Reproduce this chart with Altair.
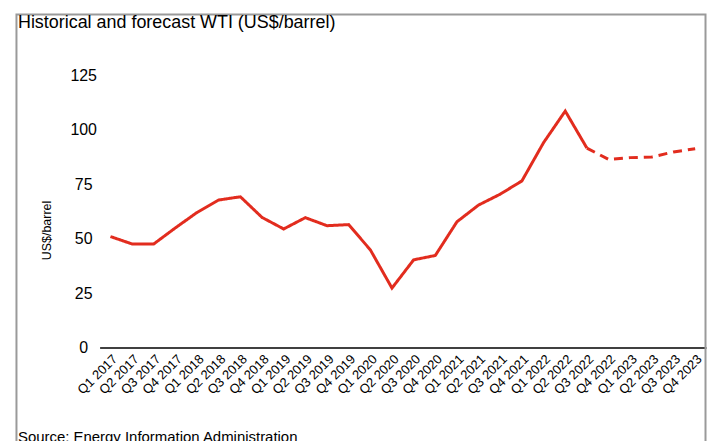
import altair as alt
import pandas as pd

title_text = "Historical and forecast WTI (US$/barrel)"
source_text = "Source: Energy Information Administration"
y_title = "US$/barrel"

quarters = [
    "Q1 2017", "Q2 2017", "Q3 2017", "Q4 2017",
    "Q1 2018", "Q2 2018", "Q3 2018", "Q4 2018",
    "Q1 2019", "Q2 2019", "Q3 2019", "Q4 2019",
    "Q1 2020", "Q2 2020", "Q3 2020", "Q4 2020",
    "Q1 2021", "Q2 2021", "Q3 2021", "Q4 2021",
    "Q1 2022", "Q2 2022", "Q3 2022", "Q4 2022",
    "Q1 2023", "Q2 2023", "Q3 2023", "Q4 2023",
]
wti = [
    51.0, 47.6, 47.6, 55.0,
    62.1, 67.8, 69.3, 59.8,
    54.5, 59.7, 56.0, 56.5,
    44.9, 27.3, 40.3, 42.3,
    57.8, 65.5, 70.5, 76.6,
    94.2, 108.7, 91.7, 86.5,
    87.3, 87.6, 89.9, 91.4,
]
forecast_start = "Q3 2022"
y_ticks = [0, 25, 50, 75, 100, 125]

split = quarters.index(forecast_start)
rows = []
for i, (q, v) in enumerate(zip(quarters, wti)):
    if i <= split:
        rows.append({"quarter": q, "wti": v, "series": "Historical", "order": i})
    if i >= split:
        rows.append({"quarter": q, "wti": v, "series": "Forecast", "order": i})
df = pd.DataFrame(rows)

FONT = "Liberation Sans"

line = alt.Chart(df).mark_line(color="#e22c1e", strokeWidth=3).encode(
    x=alt.X(
        "quarter:N",
        sort=quarters,
        scale=alt.Scale(type="point", padding=0.5),
        axis=alt.Axis(
            title=None, labelAngle=-45, labelAlign="right", labelBaseline="top",
            labelFontSize=13, labelPadding=5, ticks=False, tickSize=0,
            domainColor="#404040", domainWidth=2, labelColor="#000000",
            labelFont=FONT,
        ),
    ),
    y=alt.Y(
        "wti:Q",
        scale=alt.Scale(domain=[0, 125], nice=False, zero=True),
        axis=alt.Axis(
            values=y_ticks, grid=False, domain=False, ticks=False, tickSize=0,
            labelPadding=16.5, labelAlign="center", labelBaseline="middle",
            labelFontSize=16, labelColor="#000000", labelFont=FONT,
            title=y_title, titleFontSize=12.5, titleFontWeight="normal",
            titleFont=FONT, titleColor="#000000", titleAngle=270,
            titleX=-53, titleY=155, titleAlign="center", titleBaseline="middle",
        ),
    ),
    strokeDash=alt.StrokeDash(
        "series:N",
        scale=alt.Scale(domain=["Historical", "Forecast"], range=[[1, 0], [9, 6]]),
        legend=None,
    ),
    order="order:Q",
)

border = alt.Chart(pd.DataFrame({"a": [0]})).mark_rect(
    fill="transparent", stroke="#9a9a9a", strokeWidth=2
).encode(
    x=alt.value(-83.5), x2=alt.value(608.5), y=alt.value(-61.5), y2=alt.value(420)
)

title = alt.Chart(pd.DataFrame({"t": [title_text]})).mark_text(
    align="left", baseline="alphabetic", fontSize=18, font=FONT, color="#000000"
).encode(x=alt.value(-82), y=alt.value(-47.5), text="t:N")

source = alt.Chart(pd.DataFrame({"t": [source_text]})).mark_text(
    align="left", baseline="alphabetic", fontSize=15, font=FONT, color="#000000"
).encode(x=alt.value(-82), y=alt.value(368), text="t:N")

chart = alt.layer(border, line, title, source).properties(
    width=609,
    height=273,
    autosize="none",
    padding={"left": 92, "top": 67, "right": 1, "bottom": 93},
).configure_view(stroke="transparent")

chart.save("out.html", embed_options={"renderer": "svg", "actions": False})
